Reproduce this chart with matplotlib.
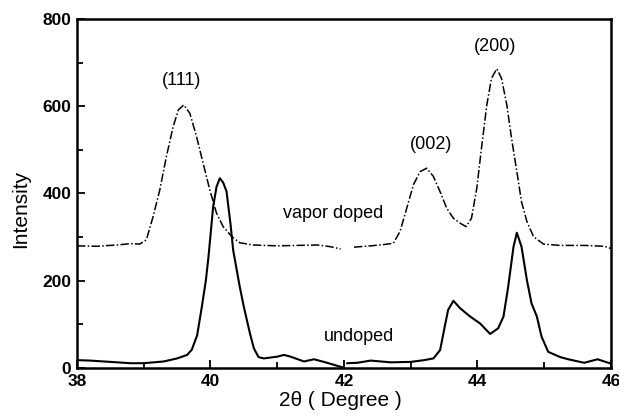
import numpy as np
import matplotlib
matplotlib.use("Agg")
import matplotlib.pyplot as plt
from matplotlib.ticker import MultipleLocator

# --- data ---
vapor_x = [38.0, 38.3, 38.6, 38.8, 38.94, 39.04, 39.14, 39.24, 39.34, 39.44, 39.52, 39.6,
           39.69, 39.79, 39.89, 39.99, 40.09, 40.19, 40.32, 40.44, 40.64, 41.0, 41.3, 41.6,
           41.8, 41.95, 42.0, 42.15, 42.4, 42.6, 42.74, 42.84, 42.94, 43.04, 43.14, 43.24,
           43.34, 43.44, 43.54, 43.64, 43.74, 43.83, 43.91, 43.99, 44.06, 44.14, 44.21, 44.29,
           44.36, 44.44, 44.51, 44.59, 44.66, 44.74, 44.84, 44.99, 45.24, 45.6, 45.9, 46.0]
vapor_y = [280, 279, 282, 285, 284, 294, 347, 408, 485, 553, 592, 603,
           584, 531, 469, 408, 355, 324, 301, 287, 282, 280, 281, 282,
           278, 273, np.nan, 277, 280, 283, 286, 313, 366, 420, 450, 458,
           439, 404, 366, 343, 332, 324, 343, 412, 504, 603, 664, 686,
           664, 603, 527, 450, 381, 336, 301, 284, 281, 281, 279, 274]

undoped_x = [38.0, 38.2, 38.5, 38.8, 39.0, 39.3, 39.5, 39.65, 39.72, 39.8, 39.87, 39.93, 39.97,
             40.04, 40.09, 40.14, 40.19, 40.24, 40.3, 40.34, 40.44, 40.5, 40.59, 40.65, 40.72,
             40.8, 41.0, 41.1, 41.2, 41.4, 41.55, 41.7, 41.9, 41.97, 42.0, 42.05, 42.2, 42.4,
             42.7, 43.0, 43.2, 43.34, 43.44, 43.51, 43.56, 43.64, 43.74, 43.89, 44.04, 44.19,
             44.31, 44.39, 44.46, 44.54, 44.59, 44.66, 44.74, 44.81, 44.89, 44.96, 45.06, 45.24,
             45.36, 45.6, 45.8, 46.0]
undoped_y = [18, 17, 14, 11, 11, 15, 22, 30, 42, 75, 140, 200, 255,
             370, 415, 435, 425, 405, 330, 270, 185, 140, 80, 45, 25,
             22, 26, 30, 26, 15, 20, 14, 5, 2, np.nan, 11, 12, 17,
             13, 14, 18, 22, 41, 95, 133, 154, 137, 118, 102, 78,
             91, 118, 186, 278, 310, 278, 202, 148, 118, 72, 37, 25,
             20, 12, 20, 10]

peak_labels = ["(111)", "(002)", "(200)"]
peak_label_x = [39.57, 43.3, 44.26]
peak_label_y = [660, 513, 737]

series_labels = ["vapor doped", "undoped"]
series_label_x = [41.84, 42.22]
series_label_y = [355, 72]

xticks = [38, 40, 42, 44, 46]
yticks = [0, 200, 400, 600, 800]

# --- figure ---
fig = plt.figure(figsize=(6.19, 4.2), dpi=100)
ax = fig.add_axes([0.1244, 0.1238, 0.8626, 0.8310])

ax.plot(vapor_x, vapor_y, color="black", lw=1.1, linestyle=(0, (5.5, 1.5, 1, 1.5)))
ax.plot(undoped_x, undoped_y, color="black", lw=1.5)

ax.set_xlim(38, 46)
ax.set_ylim(0, 800)
ax.set_xticks(xticks)
ax.set_yticks(yticks)
ax.xaxis.set_minor_locator(MultipleLocator(1))
ax.yaxis.set_minor_locator(MultipleLocator(100))
ax.tick_params(which="both", direction="in", top=False, right=False, width=1.3, pad=4)
ax.tick_params(which="major", length=6)
ax.tick_params(which="minor", length=4)
for sp in ax.spines.values():
    sp.set_linewidth(1.8)

tick_font = dict(family=["Liberation Sans Narrow", "Liberation Sans", "DejaVu Sans"],
                 weight="bold", size=12.5)
ax.set_xticklabels([str(t) for t in xticks], fontdict=tick_font)
ax.set_yticklabels([str(t) for t in yticks], fontdict=tick_font)

lab_font = dict(family=["Liberation Sans", "DejaVu Sans"], size=15)
ax.set_xlabel("2θ ( Degree )", fontdict=lab_font)
ax.set_ylabel("Intensity", fontdict=lab_font)
ax.xaxis.set_label_coords(0.4925, -0.066)
ax.yaxis.set_label_coords(-0.088, 0.456)

txt_font = dict(family=["Liberation Sans", "DejaVu Sans"], size=13)
for t, x, y in zip(peak_labels, peak_label_x, peak_label_y):
    ax.text(x, y, t, ha="center", va="center", **txt_font)
for t, x, y in zip(series_labels, series_label_x, series_label_y):
    ax.text(x, y, t, ha="center", va="center", **txt_font)

fig.savefig("out.png", dpi=100)
